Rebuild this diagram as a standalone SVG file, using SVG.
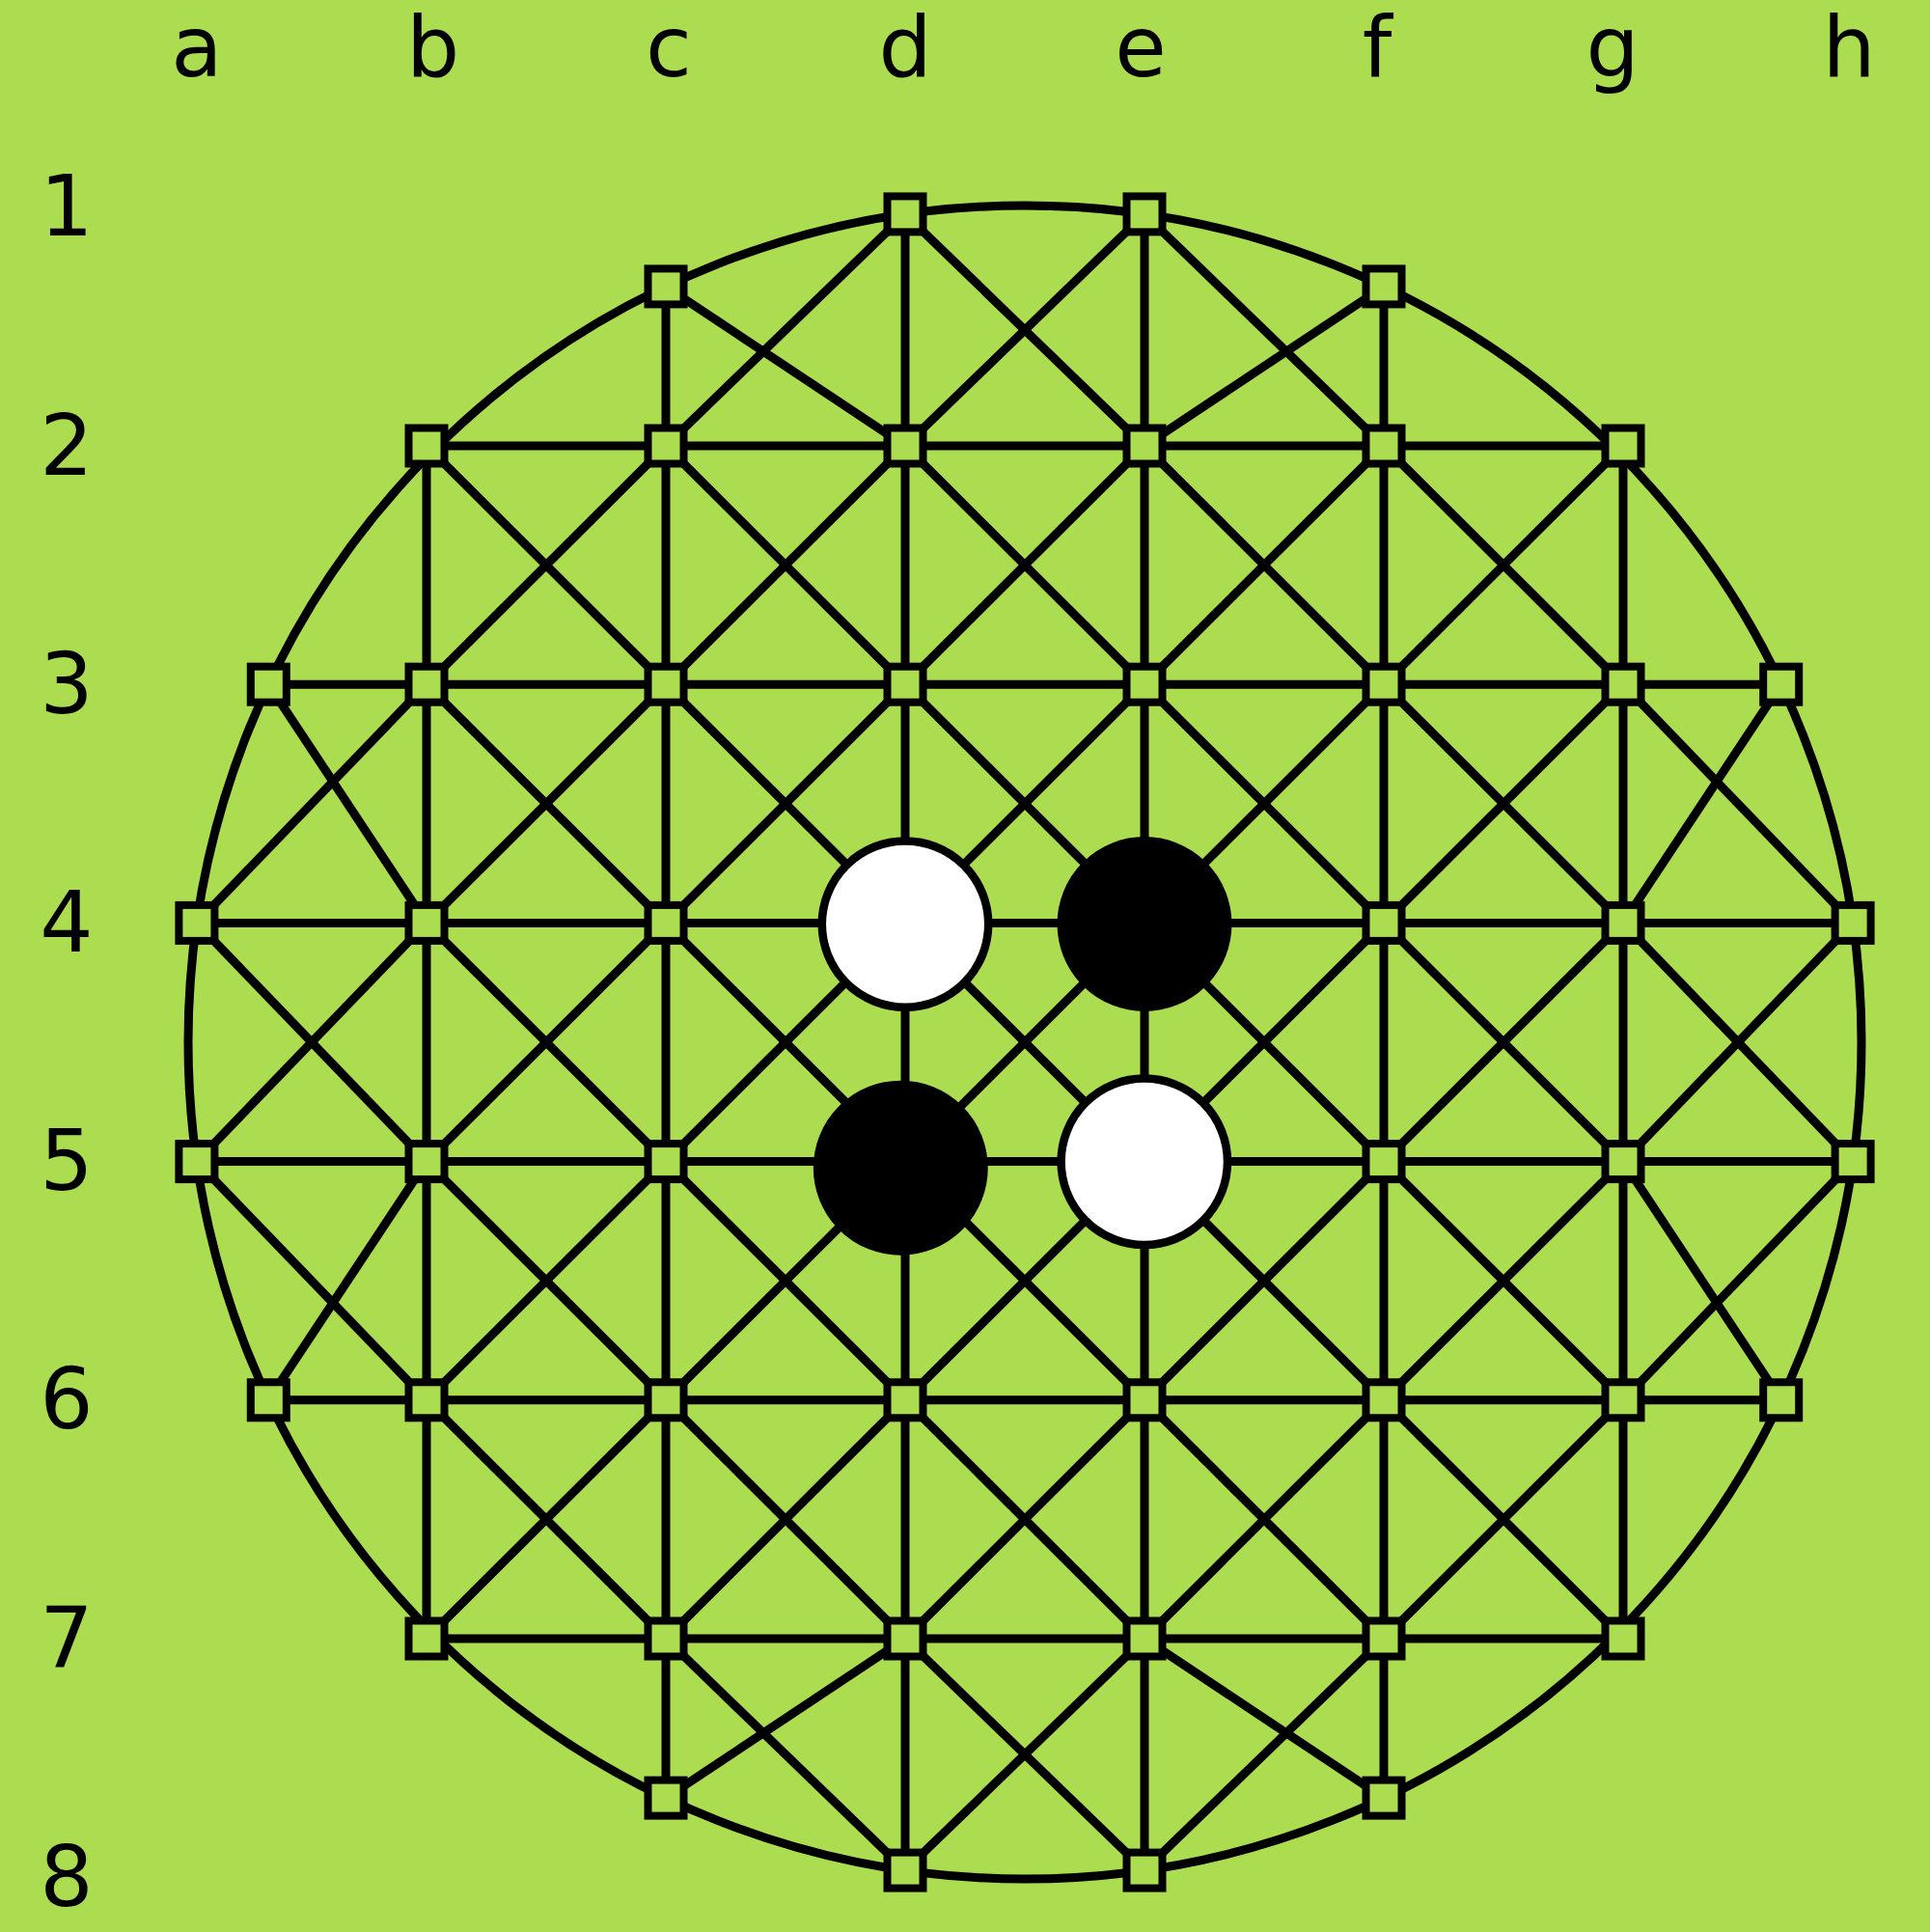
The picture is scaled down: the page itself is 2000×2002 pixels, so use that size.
<svg xmlns="http://www.w3.org/2000/svg" width="2000" height="2002" viewBox="0 0 2000 2002">
<style>
.ln{stroke:#000;stroke-width:9;fill:none}
.sq{fill:#acdc50;stroke:#000;stroke-width:8}
.wh{fill:#fff;stroke:#000;stroke-width:8.5}
.bk{fill:#000;stroke:#000;stroke-width:8.5}
.lbl{font-family:"DejaVu Sans",sans-serif;font-size:87px;text-anchor:middle;fill:#000}
</style>
<rect x="0" y="0" width="2000" height="2002" fill="#acdc50"/>
<g id="labels">
<text class="lbl" x="204" y="79">a</text>
<text class="lbl" x="448.6" y="79">b</text>
<text class="lbl" x="693" y="79">c</text>
<text class="lbl" x="938" y="79">d</text>
<text class="lbl" x="1182" y="79">e</text>
<text class="lbl" x="1427" y="79">f</text>
<text class="lbl" x="1671" y="79">g</text>
<text class="lbl" x="1916" y="79">h</text>
<text class="lbl" x="69" y="244.3">1</text>
<text class="lbl" x="69" y="491.5">2</text>
<text class="lbl" x="69" y="738.7">3</text>
<text class="lbl" x="69" y="985.9">4</text>
<text class="lbl" x="69" y="1233.1">5</text>
<text class="lbl" x="69" y="1480.3">6</text>
<text class="lbl" x="69" y="1727.5">7</text>
<text class="lbl" x="69" y="1974.7">8</text>
</g>
<g id="connectors">
<circle class="ln" cx="1062" cy="1080" r="867"/>
<line class="ln" x1="442" y1="462" x2="1682" y2="462"/>
<line class="ln" x1="278.3" y1="709.2" x2="1845.7" y2="709.2"/>
<line class="ln" x1="203.9" y1="956.4" x2="1920.1" y2="956.4"/>
<line class="ln" x1="203.9" y1="1203.6" x2="1920.1" y2="1203.6"/>
<line class="ln" x1="278.3" y1="1450.8" x2="1845.7" y2="1450.8"/>
<line class="ln" x1="442" y1="1698" x2="1682" y2="1698"/>
<line class="ln" x1="442" y1="462" x2="442" y2="1698"/>
<line class="ln" x1="690" y1="296.9" x2="690" y2="1863.1"/>
<line class="ln" x1="938" y1="221.9" x2="938" y2="1938.1"/>
<line class="ln" x1="1186" y1="221.9" x2="1186" y2="1938.1"/>
<line class="ln" x1="1434" y1="296.9" x2="1434" y2="1863.1"/>
<line class="ln" x1="1682" y1="462" x2="1682" y2="1698"/>
<line class="ln" x1="442" y1="462" x2="1682" y2="1698"/>
<line class="ln" x1="690" y1="462" x2="1682" y2="1450.8"/>
<line class="ln" x1="690" y1="296.9" x2="938" y2="462"/>
<line class="ln" x1="938" y1="462" x2="1682" y2="1203.6"/>
<line class="ln" x1="1682" y1="1203.6" x2="1845.7" y2="1450.8"/>
<line class="ln" x1="938" y1="221.9" x2="1186" y2="462"/>
<line class="ln" x1="1186" y1="462" x2="1682" y2="956.4"/>
<line class="ln" x1="1682" y1="956.4" x2="1920.1" y2="1203.6"/>
<line class="ln" x1="1186" y1="221.9" x2="1434" y2="462"/>
<line class="ln" x1="1434" y1="462" x2="1682" y2="709.2"/>
<line class="ln" x1="1682" y1="709.2" x2="1920.1" y2="956.4"/>
<line class="ln" x1="442" y1="709.2" x2="1434" y2="1698"/>
<line class="ln" x1="278.3" y1="709.2" x2="442" y2="956.4"/>
<line class="ln" x1="442" y1="956.4" x2="1186" y2="1698"/>
<line class="ln" x1="1186" y1="1698" x2="1434" y2="1863.1"/>
<line class="ln" x1="203.9" y1="956.4" x2="442" y2="1203.6"/>
<line class="ln" x1="442" y1="1203.6" x2="938" y2="1698"/>
<line class="ln" x1="938" y1="1698" x2="1186" y2="1938.1"/>
<line class="ln" x1="203.9" y1="1203.6" x2="442" y2="1450.8"/>
<line class="ln" x1="442" y1="1450.8" x2="690" y2="1698"/>
<line class="ln" x1="690" y1="1698" x2="938" y2="1938.1"/>
<line class="ln" x1="442" y1="1698" x2="1682" y2="462"/>
<line class="ln" x1="442" y1="1450.8" x2="1434" y2="462"/>
<line class="ln" x1="690" y1="1698" x2="1682" y2="709.2"/>
<line class="ln" x1="278.3" y1="1450.8" x2="442" y2="1203.6"/>
<line class="ln" x1="442" y1="1203.6" x2="1186" y2="462"/>
<line class="ln" x1="1186" y1="462" x2="1434" y2="296.9"/>
<line class="ln" x1="203.9" y1="1203.6" x2="442" y2="956.4"/>
<line class="ln" x1="442" y1="956.4" x2="938" y2="462"/>
<line class="ln" x1="938" y1="462" x2="1186" y2="221.9"/>
<line class="ln" x1="203.9" y1="956.4" x2="442" y2="709.2"/>
<line class="ln" x1="442" y1="709.2" x2="690" y2="462"/>
<line class="ln" x1="690" y1="462" x2="938" y2="221.9"/>
<line class="ln" x1="690" y1="1863.1" x2="938" y2="1698"/>
<line class="ln" x1="938" y1="1698" x2="1682" y2="956.4"/>
<line class="ln" x1="1682" y1="956.4" x2="1845.7" y2="709.2"/>
<line class="ln" x1="938" y1="1938.1" x2="1186" y2="1698"/>
<line class="ln" x1="1186" y1="1698" x2="1682" y2="1203.6"/>
<line class="ln" x1="1682" y1="1203.6" x2="1920.1" y2="956.4"/>
<line class="ln" x1="1186" y1="1938.1" x2="1434" y2="1698"/>
<line class="ln" x1="1434" y1="1698" x2="1682" y2="1450.8"/>
<line class="ln" x1="1682" y1="1450.8" x2="1920.1" y2="1203.6"/>
</g>
<g id="c1"><rect class="sq" x="671.5" y="278.4" width="37" height="37"/></g>
<g id="d1"><rect class="sq" x="919.5" y="203.4" width="37" height="37"/></g>
<g id="e1"><rect class="sq" x="1167.5" y="203.4" width="37" height="37"/></g>
<g id="f1"><rect class="sq" x="1415.5" y="278.4" width="37" height="37"/></g>
<g id="b2"><rect class="sq" x="423.5" y="443.5" width="37" height="37"/></g>
<g id="c2"><rect class="sq" x="671.5" y="443.5" width="37" height="37"/></g>
<g id="d2"><rect class="sq" x="919.5" y="443.5" width="37" height="37"/></g>
<g id="e2"><rect class="sq" x="1167.5" y="443.5" width="37" height="37"/></g>
<g id="f2"><rect class="sq" x="1415.5" y="443.5" width="37" height="37"/></g>
<g id="g2"><rect class="sq" x="1663.5" y="443.5" width="37" height="37"/></g>
<g id="a3"><rect class="sq" x="259.8" y="690.7" width="37" height="37"/></g>
<g id="b3"><rect class="sq" x="423.5" y="690.7" width="37" height="37"/></g>
<g id="c3"><rect class="sq" x="671.5" y="690.7" width="37" height="37"/></g>
<g id="d3"><rect class="sq" x="919.5" y="690.7" width="37" height="37"/></g>
<g id="e3"><rect class="sq" x="1167.5" y="690.7" width="37" height="37"/></g>
<g id="f3"><rect class="sq" x="1415.5" y="690.7" width="37" height="37"/></g>
<g id="g3"><rect class="sq" x="1663.5" y="690.7" width="37" height="37"/></g>
<g id="h3"><rect class="sq" x="1827.2" y="690.7" width="37" height="37"/></g>
<g id="a4"><rect class="sq" x="185.4" y="937.9" width="37" height="37"/></g>
<g id="b4"><rect class="sq" x="423.5" y="937.9" width="37" height="37"/></g>
<g id="c4"><rect class="sq" x="671.5" y="937.9" width="37" height="37"/></g>
<g id="d4"><circle class="wh" cx="938" cy="957.6" r="86.2"/></g>
<g id="e4"><circle class="bk" cx="1186" cy="957.5" r="86.2"/></g>
<g id="f4"><rect class="sq" x="1415.5" y="937.9" width="37" height="37"/></g>
<g id="g4"><rect class="sq" x="1663.5" y="937.9" width="37" height="37"/></g>
<g id="h4"><rect class="sq" x="1901.6" y="937.9" width="37" height="37"/></g>
<g id="a5"><rect class="sq" x="185.4" y="1185.1" width="37" height="37"/></g>
<g id="b5"><rect class="sq" x="423.5" y="1185.1" width="37" height="37"/></g>
<g id="c5"><rect class="sq" x="671.5" y="1185.1" width="37" height="37"/></g>
<g id="d5"><circle class="bk" cx="933.3" cy="1210.2" r="86.2"/></g>
<g id="e5"><circle class="wh" cx="1185.8" cy="1203.8" r="86.2"/></g>
<g id="f5"><rect class="sq" x="1415.5" y="1185.1" width="37" height="37"/></g>
<g id="g5"><rect class="sq" x="1663.5" y="1185.1" width="37" height="37"/></g>
<g id="h5"><rect class="sq" x="1901.6" y="1185.1" width="37" height="37"/></g>
<g id="a6"><rect class="sq" x="259.8" y="1432.3" width="37" height="37"/></g>
<g id="b6"><rect class="sq" x="423.5" y="1432.3" width="37" height="37"/></g>
<g id="c6"><rect class="sq" x="671.5" y="1432.3" width="37" height="37"/></g>
<g id="d6"><rect class="sq" x="919.5" y="1432.3" width="37" height="37"/></g>
<g id="e6"><rect class="sq" x="1167.5" y="1432.3" width="37" height="37"/></g>
<g id="f6"><rect class="sq" x="1415.5" y="1432.3" width="37" height="37"/></g>
<g id="g6"><rect class="sq" x="1663.5" y="1432.3" width="37" height="37"/></g>
<g id="h6"><rect class="sq" x="1827.2" y="1432.3" width="37" height="37"/></g>
<g id="b7"><rect class="sq" x="423.5" y="1679.5" width="37" height="37"/></g>
<g id="c7"><rect class="sq" x="671.5" y="1679.5" width="37" height="37"/></g>
<g id="d7"><rect class="sq" x="919.5" y="1679.5" width="37" height="37"/></g>
<g id="e7"><rect class="sq" x="1167.5" y="1679.5" width="37" height="37"/></g>
<g id="f7"><rect class="sq" x="1415.5" y="1679.5" width="37" height="37"/></g>
<g id="g7"><rect class="sq" x="1663.5" y="1679.5" width="37" height="37"/></g>
<g id="c8"><rect class="sq" x="671.5" y="1844.6" width="37" height="37"/></g>
<g id="d8"><rect class="sq" x="919.5" y="1919.6" width="37" height="37"/></g>
<g id="e8"><rect class="sq" x="1167.5" y="1919.6" width="37" height="37"/></g>
<g id="f8"><rect class="sq" x="1415.5" y="1844.6" width="37" height="37"/></g>
</svg>
